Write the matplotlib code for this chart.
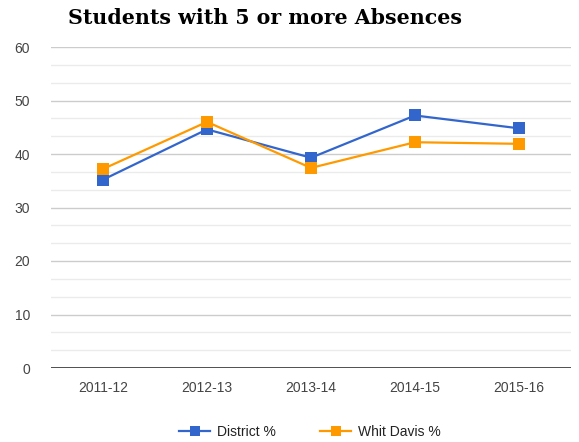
#!/usr/bin/env python3
"""Students with 5 or more Absences - line chart."""

import matplotlib

matplotlib.use("Agg")
import matplotlib.pyplot as plt
from matplotlib.ticker import MultipleLocator

years = ["2011-12", "2012-13", "2013-14", "2014-15", "2015-16"]
district = [35.2, 44.6, 39.3, 47.2, 44.8]
whit_davis = [37.2, 46.0, 37.4, 42.2, 41.9]

BLUE = "#3366cc"
ORANGE = "#ff9900"

plt.rcParams["font.family"] = ["Liberation Sans", "DejaVu Sans"]

fig = plt.figure(figsize=(5.79, 4.42), dpi=100)
ax = fig.add_axes([51 / 579, 74 / 442, 520 / 579, 321 / 442])

x = list(range(len(years)))
ax.plot(x, district, color=BLUE, lw=1.6, marker="s", ms=8, mew=0,
        label="District %", zorder=3)
ax.plot(x, whit_davis, color=ORANGE, lw=1.6, marker="s", ms=8, mew=0,
        label="Whit Davis %", zorder=4)

ax.set_xlim(-0.5, len(years) - 0.5)
ax.set_ylim(0, 60)
ax.set_xticks(x)
ax.set_xticklabels(years)
ax.yaxis.set_major_locator(MultipleLocator(10))
ax.yaxis.set_minor_locator(MultipleLocator(10 / 3))

ax.grid(True, which="major", axis="y", color="#cccccc", lw=1)
ax.grid(True, which="minor", axis="y", color="#ebebeb", lw=1)
ax.axhline(0, color="#333333", lw=1.2, zorder=2)
ax.set_axisbelow(True)

for s in ax.spines.values():
    s.set_visible(False)
ax.tick_params(axis="both", which="both", length=0, labelsize=10, colors="#444444")
ax.tick_params(axis="y", pad=15)
ax.tick_params(axis="x", pad=9)

fig.text(68 / 579, 1 - 18 / 442, "Students with 5 or more Absences",
         family=["DejaVu Serif"], fontweight="bold",
         fontsize=14.8, va="center", ha="left", color="#000000")

fig.legend(loc="center", bbox_to_anchor=(310 / 579, 10 / 442), ncol=2, frameon=False,
           fontsize=10, handlelength=2.2, columnspacing=3.2, handletextpad=0.5,
           markerscale=0.9, labelcolor="#222222")

fig.savefig("out.png", dpi=100)
